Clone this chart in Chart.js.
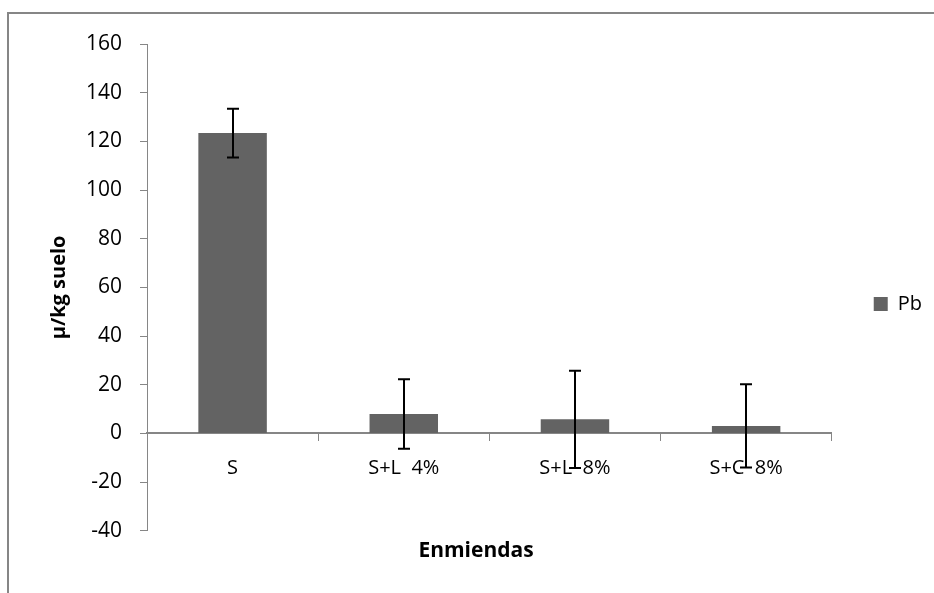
<!DOCTYPE html>
<html>
<head>
<meta charset="utf-8">
<script src="https://cdn.jsdelivr.net/npm/chart.js@4"></script>
<style>
  html, body { margin: 0; padding: 0; background: #fff; }
  #wrap { width: 934px; height: 593px; }
</style>
</head>
<body>
<div id="wrap"><canvas id="pbChart" width="934" height="593"></canvas></div>
<script>
// Data
const categories = ['S', 'S+L  4%', 'S+L  8%', 'S+C  8%'];
const pbValues = [123.4, 8, 5.8, 3.1];
const pbErrors = [10, 14.3, 20, 17.1];
const yTicks = [-40, -20, 0, 20, 40, 60, 80, 100, 120, 140, 160];

const FONT = '"Open Sans", "Noto Sans", sans-serif';
const AXIS_GREY = '#868686';

// Outer frame like the spreadsheet chart area
const framePlugin = {
    id: 'frame',
    beforeDraw(chart) {
        const ctx = chart.ctx;
        ctx.save();
        ctx.strokeStyle = AXIS_GREY;
        ctx.lineWidth = 2;
        ctx.strokeRect(8, 13, 1200, 1200);
        ctx.restore();
    }
};

// Error bars drawn from the data arrays through the chart scales
const errorBarPlugin = {
    id: 'errorBars',
    afterDatasetsDraw(chart) {
        const ctx = chart.ctx;
        const y = chart.scales.y;
        const meta = chart.getDatasetMeta(0);
        ctx.save();
        ctx.strokeStyle = '#000';
        ctx.lineWidth = 2;
        meta.data.forEach((bar, i) => {
            const x = Math.round(bar.x);
            const top = y.getPixelForValue(pbValues[i] + pbErrors[i]);
            const bottom = y.getPixelForValue(pbValues[i] - pbErrors[i]);
            ctx.beginPath();
            ctx.moveTo(x, top);
            ctx.lineTo(x, bottom);
            ctx.moveTo(x - 6, top);
            ctx.lineTo(x + 6, top);
            ctx.moveTo(x - 6, bottom);
            ctx.lineTo(x + 6, bottom);
            ctx.stroke();
        });
        ctx.restore();
    }
};

const ctx = document.getElementById('pbChart').getContext('2d');

new Chart(ctx, {
    type: 'bar',
    data: {
        labels: categories,
        datasets: [{
            label: 'Pb',
            data: pbValues,
            backgroundColor: '#636363',
            borderWidth: 0,
            categoryPercentage: 1,
            barPercentage: 0.4
        }]
    },
    options: {
        responsive: false,
        animation: false,
        layout: {
            padding: { left: 20, right: 2, top: 44, bottom: 29 }
        },
        plugins: {
            legend: {
                position: 'right',
                labels: {
                    color: '#000',
                    font: { family: FONT, size: 20 },
                    boxWidth: 14,
                    boxHeight: 14,
                    padding: 42
                }
            },
            title: {
                display: true,
                position: 'bottom',
                text: 'Enmiendas',
                color: '#000',
                font: { family: FONT, size: 21, weight: 'bold' },
                padding: { top: 8, bottom: 0 }
            },
            tooltip: { enabled: false }
        },
        scales: {
            x: {
                position: { y: 0 },
                grid: {
                    offset: true,
                    drawOnChartArea: false,
                    drawTicks: true,
                    tickLength: 7,
                    color: AXIS_GREY
                },
                border: { color: AXIS_GREY, width: 2 },
                ticks: {
                    color: '#000',
                    padding: 16,
                    font: { family: FONT, size: 20 }
                }
            },
            y: {
                min: -40,
                max: 160,
                afterBuildTicks: scale => {
                    scale.ticks = yTicks.map(v => ({ value: v }));
                },
                afterFit: scale => {
                    scale.width = 127;
                },
                grid: {
                    drawOnChartArea: false,
                    drawTicks: true,
                    tickLength: 7,
                    color: AXIS_GREY
                },
                border: { color: AXIS_GREY, width: 1 },
                ticks: {
                    color: '#000',
                    padding: 18,
                    font: { family: FONT, size: 21 }
                },
                title: {
                    display: true,
                    text: 'µ/kg suelo',
                    color: '#000',
                    font: { family: FONT, size: 20, weight: 'bold' },
                    padding: { top: 27, bottom: 0 }
                }
            }
        }
    },
    plugins: [framePlugin, errorBarPlugin]
});
</script>
</body>
</html>
